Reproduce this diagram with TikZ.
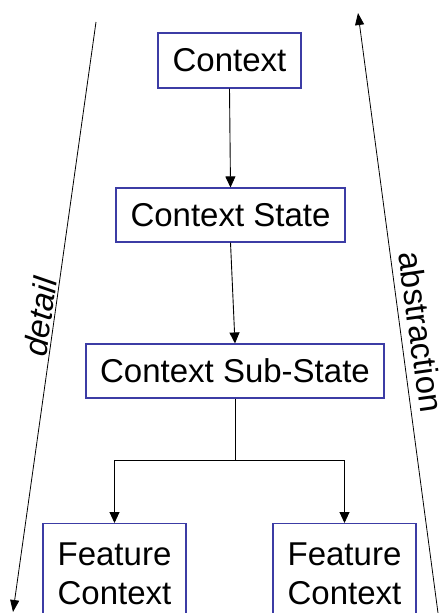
\documentclass[tikz,border=0pt]{standalone}
\usepackage{fontspec}
\setmainfont{Liberation Sans}
\usetikzlibrary{arrows.meta}
\definecolor{boxblue}{RGB}{60,60,165}
\tikzset{
  box/.style={draw=boxblue, line width=1.1pt, fill=white, inner sep=0pt,
    font=\fontsize{33}{39}\selectfont, align=center},
  conn/.style={draw=black, line width=0.9pt, -{Triangle[length=11pt,width=10pt]}},
  side/.style={draw=black, line width=0.8pt, -{Triangle[length=12pt,width=9pt]}},
  lbl/.style={font=\fontsize{33}{39}\selectfont, inner sep=0pt}
}
\begin{document}
\begin{tikzpicture}[x=1pt,y=-1pt]
\useasboundingbox (0,0) rectangle (440,613);
\node[box, minimum width=143pt, minimum height=55pt] (ctx) at (229.5,60.5) {Context};
\node[box, minimum width=229pt, minimum height=54pt] (st) at (230.5,215) {Context State};
\node[box, minimum width=298pt, minimum height=54pt] (sub) at (235,371) {Context Sub-State};
\node[box, minimum width=143pt, minimum height=100pt, anchor=north] (f1) at (114.5,523) {Feature\\Context};
\node[box, minimum width=143pt, minimum height=100pt, anchor=north] (f2) at (344.5,523) {Feature\\Context};
\draw[conn] (ctx.south) -- (st.north);
\draw[conn] (st.south) -- (sub.north);
\coordinate (fork) at (235,460);
\draw[line width=0.9pt] (sub.south) -- (fork);
\draw[conn] (fork) -| (f1.north);
\draw[conn] (fork) -| (f2.north);
\coordinate (ltop) at (96,22);
\coordinate (lbot) at (13,612);
\coordinate (rbot) at (438,613);
\coordinate (rtop) at (358,13);
\draw[side] (ltop) -- (lbot);
\draw[side] (rbot) -- (rtop);
\node[lbl, rotate=82, font=\fontsize{33}{39}\selectfont\itshape] (det) at (40,317) {detail};
\node[lbl, rotate=-82] (abs) at (421,332) {abstraction};
\end{tikzpicture}
\end{document}
